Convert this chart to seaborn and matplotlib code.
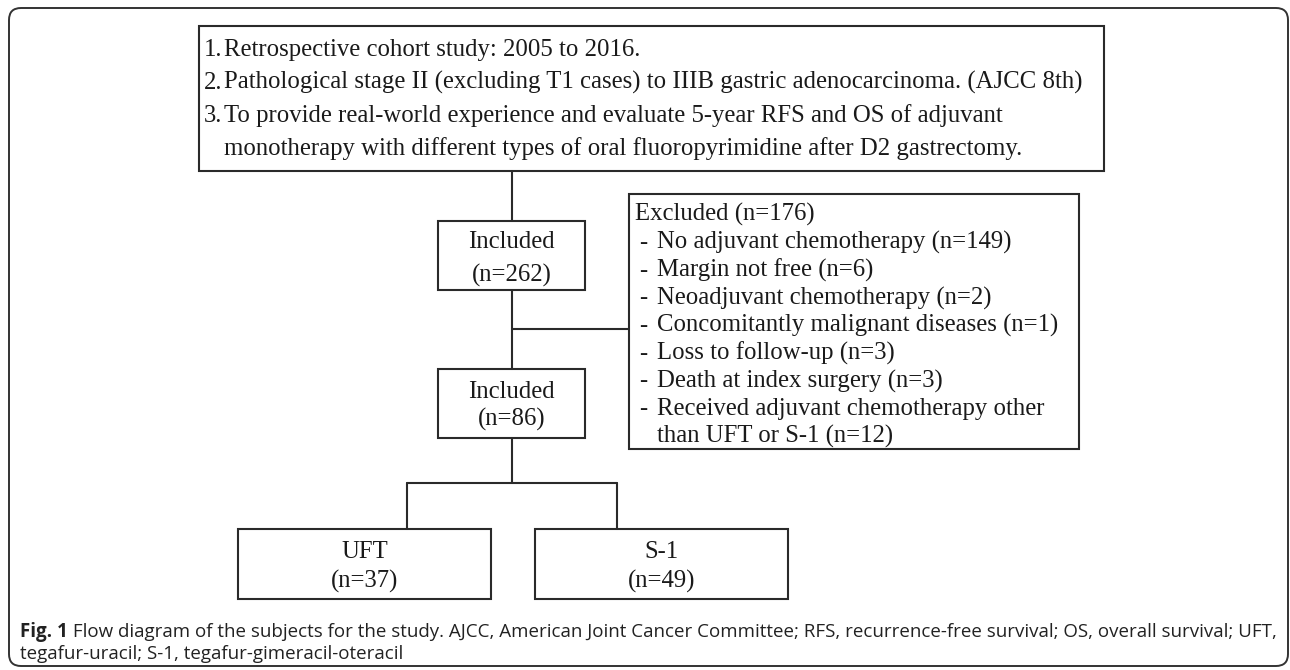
# Flow diagram of the study subjects (UFT vs S-1 cohort)
import pandas as pd
import seaborn as sns
import matplotlib.pyplot as plt
from matplotlib.patches import Rectangle, FancyBboxPatch

# ---- data -------------------------------------------------------------
criteria_numbers = ["1.", "2.", "3."]
criteria_lines = [
    "Retrospective cohort study: 2005 to 2016.",
    "Pathological stage II (excluding T1 cases) to IIIB gastric adenocarcinoma. (AJCC 8th)",
    "To provide real-world experience and evaluate 5-year RFS and OS of adjuvant",
]
criteria_wrap = "monotherapy with different types of oral fluoropyrimidine after D2 gastrectomy."

n_included = 262
n_excluded = 176
excluded_reasons = [
    "No adjuvant chemotherapy",
    "Margin not free",
    "Neoadjuvant chemotherapy",
    "Concomitantly malignant diseases",
    "Loss to follow-up",
    "Death at index surgery",
    "Received adjuvant chemotherapy other\nthan UFT or S-1",
]
excluded_counts = [149, 6, 2, 1, 3, 3, 12]
n_final = 86
groups = ["UFT", "S-1"]
group_counts = [37, 49]

caption_bold = "Fig. 1"
caption_line1 = (" Flow diagram of the subjects for the study. AJCC, American Joint Cancer "
                 "Committee; RFS, recurrence-free survival; OS, overall survival; UFT,")
caption_line2 = "tegafur-uracil; S-1, tegafur-gimeracil-oteracil"

# ---- layout (pixel space, y grows downward) ----------------------------
W, H = 1290, 670
LINE = "#2a2a2a"
TXT = "#1a1a1a"
FS = 17.8  # pt at 100 dpi
BASE = 8   # baseline offset from visual line centre, px

top_box = (199, 26, 1104, 171)
inc1_box = (438, 221, 585, 290)
inc2_box = (438, 369, 585, 438)
exc_box = (629, 194, 1079, 449)
grp_boxes = [(238, 529, 491, 599), (535, 529, 788, 599)]
trunk_x = 512
split_y = 483
branch_y = 329
grp_conn_x = [407, 617]

sns.set_theme(style="white")
plt.rcParams['font.family'] = ['Liberation Serif', 'DejaVu Serif']

fig = plt.figure(figsize=(W / 100, H / 100), dpi=100)
ax = fig.add_axes([0, 0, 1, 1])


def box(b):
    x0, y0, x1, y1 = b
    ax.add_patch(Rectangle((x0, y0), x1 - x0, y1 - y0, fill=False,
                           edgecolor=LINE, linewidth=1.5, zorder=3))


def label(x, y, s, ha="left"):
    ax.text(x, y + BASE, s, fontsize=FS, color=TXT, ha=ha, va="baseline")


# connectors drawn with seaborn from a segment table
segs = [
    [(trunk_x, top_box[3]), (trunk_x, inc1_box[1])],
    [(trunk_x, inc1_box[3]), (trunk_x, inc2_box[1])],
    [(trunk_x, branch_y), (exc_box[0], branch_y)],
    [(trunk_x, inc2_box[3]), (trunk_x, split_y)],
    [(grp_conn_x[0], split_y), (grp_conn_x[1], split_y)],
]
for cx, gb in zip(grp_conn_x, grp_boxes):
    segs.append([(cx, split_y), (cx, gb[1])])
rows = []
for i, s in enumerate(segs):
    for j, (x, y) in enumerate(s):
        rows.append({"seg": i, "order": j, "x": x, "y": y})
seg_df = pd.DataFrame(rows)
sns.lineplot(data=seg_df, x="x", y="y", units="seg", estimator=None, sort=False,
             color=LINE, linewidth=1.5, ax=ax, legend=False)

# boxes
for b in [top_box, inc1_box, inc2_box, exc_box] + grp_boxes:
    box(b)

# top criteria box
line_y = [48, 81, 114]
for num, txt, y in zip(criteria_numbers, criteria_lines, line_y):
    label(204, y, num)
    label(224, y, txt)
label(224, 147, criteria_wrap)

# included boxes
cx = (inc1_box[0] + inc1_box[2]) / 2
label(cx, 240, "Included", ha="center")
label(cx, 274, f"(n={n_included})", ha="center")
label(cx, 390, "Included", ha="center")
label(cx, 418, f"(n={n_final})", ha="center")

# excluded box
pitch = 27.75
y = 213
label(635, y, f"Excluded (n={n_excluded})")
for reason, n in zip(excluded_reasons, excluded_counts):
    y += pitch
    parts = f"{reason} (n={n})".split("\n")
    label(639, y, "-")
    for k, p in enumerate(parts):
        label(657, y + k * pitch, p)
    y += (len(parts) - 1) * pitch

# group boxes
for g, n, gb in zip(groups, group_counts, grp_boxes):
    gx = (gb[0] + gb[2]) / 2
    label(gx, 550, g, ha="center")
    label(gx, 580, f"(n={n})", ha="center")

# outer rounded frame
ax.add_patch(FancyBboxPatch((9, 8), 1279, 658, boxstyle="round,pad=0,rounding_size=12",
                            fill=False, edgecolor="#333333", linewidth=1.4, zorder=2))

ax.set_xlim(0, W)
ax.set_ylim(H, 0)
ax.set_axis_off()

# caption, sized so the first line ends near x=1270
renderer = fig.canvas.get_renderer()
cfs = 13.0
cap_font = ['Open Sans', 'DejaVu Sans']
t1 = ax.text(20, 632, caption_bold, fontsize=cfs, fontweight="bold", family=cap_font,
             color="#222222", va="center")
t2 = ax.text(0, 632, caption_line1, fontsize=cfs, family=cap_font, color="#222222", va="center")
w1 = t1.get_window_extent(renderer).width
w2 = t2.get_window_extent(renderer).width
cfs = cfs * 1250 / (w1 + w2)
t1.set_fontsize(cfs)
t2.set_fontsize(cfs)
w1 = t1.get_window_extent(renderer).width
t2.set_x(20 + w1)
ax.text(20, 654, caption_line2, fontsize=cfs, family=cap_font, color="#222222", va="center")

fig.savefig("out.png", dpi=100, facecolor="white")
